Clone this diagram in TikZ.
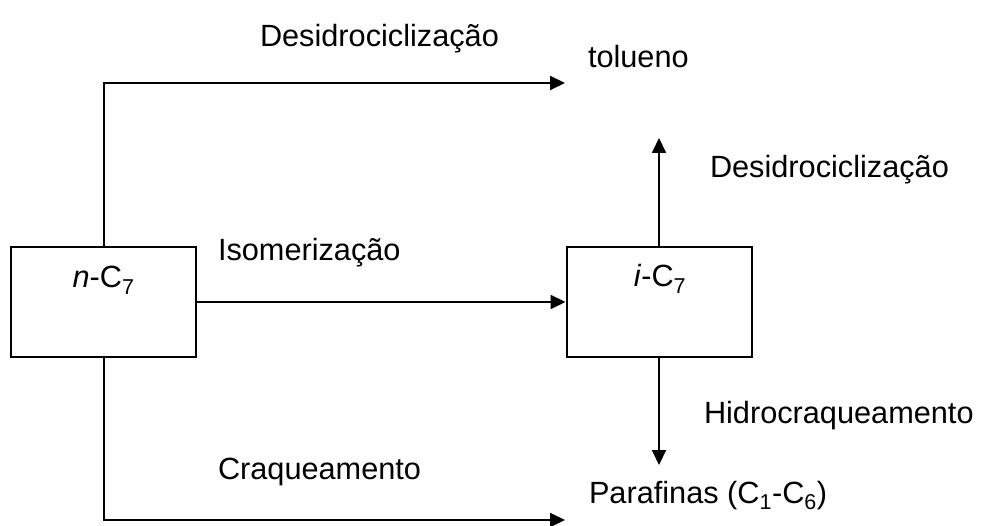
\documentclass[tikz,border=0pt]{standalone}
\usepackage{fontspec}
\setmainfont{Liberation Sans}
\usetikzlibrary{arrows.meta}
\begin{document}
\begin{tikzpicture}[x=1pt,y=-1pt,
  line width=2pt,
  font=\fontsize{30.7}{36}\selectfont,
  lbl/.style={anchor=base west,inner sep=0pt},
  inlbl/.style={anchor=base,inner sep=0pt},
  species/.style={draw,line width=2pt,minimum width=185pt,minimum height=110pt,inner sep=0pt},
  flow/.style={-{Triangle[length=15pt,width=14pt]}}]
\useasboundingbox (0,0) rectangle (987,526);

% reactant and isomer boxes
\node[species] (nc7) at (103.5,302) {};
\node[species] (ic7) at (659,302) {};
\node[inlbl] (nc7t) at (103.5,288) {\textit{n}-C\textsubscript{7}};
\node[inlbl] (ic7t) at (660,287) {\textit{i}-C\textsubscript{7}};

% product labels
\node[lbl] (tol) at (587,68) {tolueno};
\node[lbl] (par) at (588,503) {Parafinas (C\textsubscript{1}-C\textsubscript{6})};

% reaction labels
\node[lbl] (desA) at (259,47) {Desidrociclização};
\node[lbl] (desB) at (709,178) {Desidrociclização};
\node[lbl] (iso) at (217,261) {Isomerização};
\node[lbl] (hid) at (703,423) {Hidrocraqueamento};
\node[lbl] (cra) at (217,479) {Craqueamento};

% free arrow ends
\coordinate (toltip) at (565,83);
\coordinate (partip) at (565,520);
\coordinate (uptip) at (659,138);
\coordinate (downtip) at (659,465);

% pathways
\draw[flow] (nc7.north) |- (toltip);
\draw[flow] (nc7.east) -- (ic7.west);
\draw[flow] (nc7.south) |- (partip);
\draw[flow] (ic7.north) -- (uptip);
\draw[flow] (ic7.south) -- (downtip);
\end{tikzpicture}
\end{document}
